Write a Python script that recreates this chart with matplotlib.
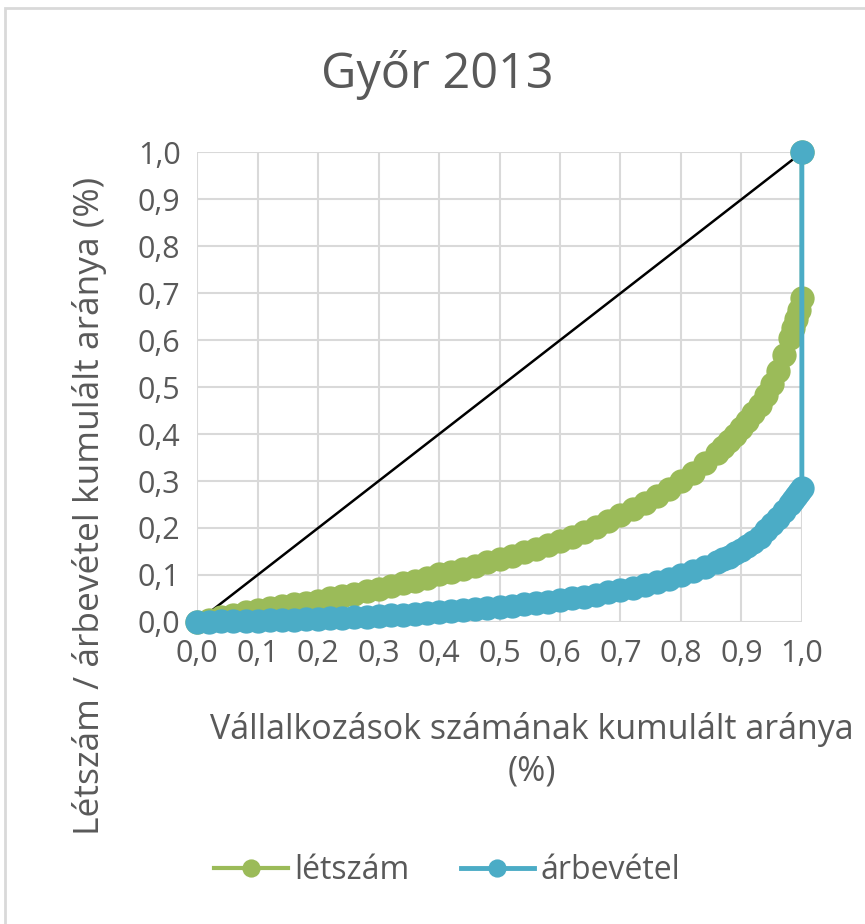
import matplotlib
matplotlib.use("Agg")
import matplotlib.pyplot as plt
from matplotlib.patches import Rectangle

TITLE = "Győr 2013"
X_LABEL = "Vállalkozások számának kumulált aránya\n(%)"
Y_LABEL = "Létszám / árbevétel kumulált aránya (%)"
TICKS = [0.0, 0.1, 0.2, 0.3, 0.4, 0.5, 0.6, 0.7, 0.8, 0.9, 1.0]

# cumulative share of firms
share_x = [0.00, 0.02, 0.04, 0.06, 0.08, 0.10, 0.12, 0.14, 0.16, 0.18,
           0.20, 0.22, 0.24, 0.26, 0.28, 0.30, 0.32, 0.34, 0.36, 0.38,
           0.40, 0.42, 0.44, 0.46, 0.48, 0.50, 0.52, 0.54, 0.56, 0.58,
           0.60, 0.62, 0.64, 0.66, 0.68, 0.70, 0.72, 0.74, 0.76, 0.78,
           0.80, 0.82, 0.84, 0.86, 0.87, 0.88, 0.89, 0.90, 0.91, 0.92,
           0.93, 0.94, 0.95, 0.96, 0.97, 0.98, 0.985, 0.99, 0.995, 1.00, 1.00]

letszam = [0.000, 0.005, 0.010, 0.015, 0.020, 0.025, 0.029, 0.033, 0.037, 0.041,
           0.045, 0.050, 0.055, 0.060, 0.065, 0.070, 0.076, 0.082, 0.088, 0.094,
           0.101, 0.107, 0.113, 0.120, 0.127, 0.134, 0.141, 0.149, 0.156, 0.164,
           0.172, 0.181, 0.191, 0.202, 0.214, 0.227, 0.240, 0.254, 0.269, 0.284,
           0.300, 0.318, 0.338, 0.360, 0.372, 0.385, 0.398, 0.412, 0.428, 0.445,
           0.463, 0.483, 0.507, 0.535, 0.568, 0.605, 0.625, 0.645, 0.665, 0.690, 1.000]

arbevetel = [0.000, 0.000, 0.001, 0.001, 0.002, 0.002, 0.003, 0.004, 0.005, 0.006,
             0.007, 0.008, 0.009, 0.010, 0.011, 0.012, 0.014, 0.015, 0.017, 0.019,
             0.021, 0.023, 0.025, 0.027, 0.029, 0.031, 0.034, 0.037, 0.040, 0.043,
             0.046, 0.050, 0.054, 0.058, 0.063, 0.068, 0.073, 0.079, 0.085, 0.092,
             0.100, 0.108, 0.117, 0.127, 0.133, 0.139, 0.146, 0.153, 0.161, 0.170,
             0.181, 0.195, 0.208, 0.222, 0.237, 0.252, 0.260, 0.268, 0.276, 0.285, 1.000]

equality = [0.0, 1.0]

GREEN = "#9bbb59"
BLUE = "#4bacc6"
TEXT = "#595959"
GRID = "#d9d9d9"
FONT = "Open Sans"

plt.rcParams["font.family"] = [FONT, "DejaVu Sans"]

fig = plt.figure(figsize=(8.65, 9.24), dpi=100)
fig.patches.append(Rectangle((0.006, -0.02), 1.1, 1.011,
                             transform=fig.transFigure, fill=False,
                             edgecolor=GRID, linewidth=2))
ax = fig.add_axes([0.228, 0.327, 0.699, 0.508])

ax.plot(equality, equality, color="black", linewidth=1.8, zorder=3)
ax.plot(share_x, letszam, color=GREEN, linewidth=3, marker="o", markersize=17.5,
        markeredgewidth=0, clip_on=False, zorder=4, label="létszám")
ax.plot(share_x, arbevetel, color=BLUE, linewidth=3.5, marker="o", markersize=17.5,
        markeredgewidth=0, clip_on=False, zorder=5, label="árbevétel")

ax.set_xlim(0, 1)
ax.set_ylim(0, 1)
ax.set_xticks(TICKS)
ax.set_yticks(TICKS)
ax.set_xticklabels([f"{t:.1f}".replace(".", ",") for t in TICKS])
ax.set_yticklabels([f"{t:.1f}".replace(".", ",") for t in TICKS])
ax.tick_params(length=0, labelsize=22, colors=TEXT, pad=12)
ax.grid(True, color=GRID, linewidth=1.5)
ax.set_axisbelow(True)
for s in ax.spines.values():
    s.set_visible(False)

fig.text(0.505, 0.919, TITLE, ha="center", va="center", fontsize=35, color=TEXT)
fig.text(0.615, 0.188, X_LABEL, ha="center", va="center", fontsize=24.5,
         color=TEXT, multialignment="center", linespacing=1.3)
fig.text(0.104, 0.452, Y_LABEL, ha="center", va="center", fontsize=25.5,
         color=TEXT, rotation=90)

leg = fig.legend(loc="center", bbox_to_anchor=(0.517, 0.058), ncol=2, frameon=False,
                 fontsize=23, handlelength=2.3, columnspacing=1.6, handletextpad=0.2,
                 markerscale=0.75)
for t in leg.get_texts():
    t.set_color(TEXT)

fig.savefig("out.png", dpi=100)
